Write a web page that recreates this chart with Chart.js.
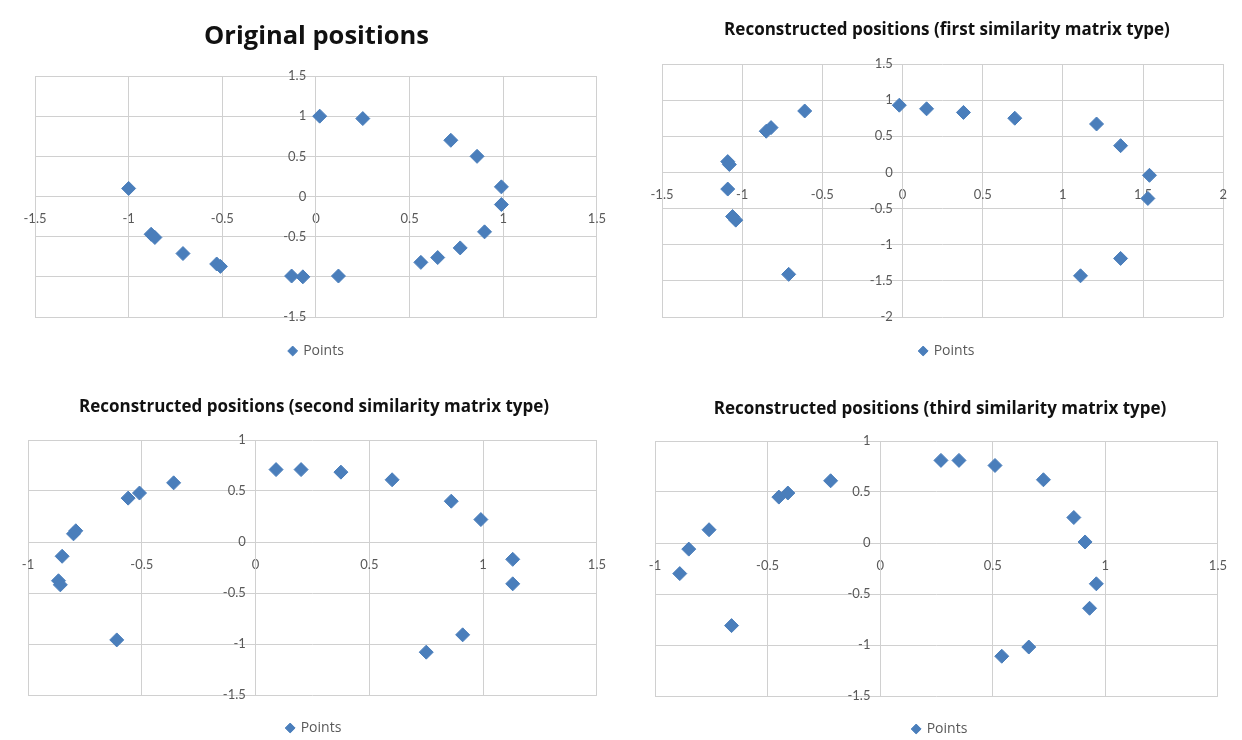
<!DOCTYPE html>
<html>
<head>
<meta charset="utf-8">
<title>Positions</title>
<script src="https://cdn.jsdelivr.net/npm/chart.js@4.4.1/dist/chart.umd.min.js"></script>
<style>
  html, body { margin: 0; padding: 0; background: #ffffff; overflow: hidden; }
  .wrap { position: absolute; }
</style>
</head>
<body>
<div class="wrap" style="left:0px;top:0px;width:621px;height:368px"><canvas id="chartOrig"></canvas></div>
<div class="wrap" style="left:621px;top:0px;width:621px;height:368px"><canvas id="chartFirst"></canvas></div>
<div class="wrap" style="left:0px;top:368px;width:621px;height:377px"><canvas id="chartSecond"></canvas></div>
<div class="wrap" style="left:621px;top:368px;width:621px;height:378px"><canvas id="chartThird"></canvas></div>
<script>
// values
const origX = [-1.0, -0.88, -0.86, -0.71, -0.53, -0.51, -0.13, -0.07, 0.12, 0.02, 0.25, 0.72, 0.86, 0.99, 0.99, 0.90, 0.77, 0.65, 0.56];
const origY = [0.10, -0.47, -0.51, -0.71, -0.84, -0.87, -0.99, -1.0, -0.99, 1.0, 0.97, 0.70, 0.50, 0.12, -0.10, -0.44, -0.64, -0.76, -0.82];

const firstX = [-1.09, -1.08, -1.09, -1.06, -1.04, -0.71, -0.85, -0.82, -0.61, -0.02, 0.15, 0.38, 0.70, 1.21, 1.36, 1.54, 1.53, 1.36, 1.11];
const firstY = [0.15, 0.11, -0.23, -0.61, -0.66, -1.41, 0.57, 0.62, 0.85, 0.93, 0.88, 0.83, 0.75, 0.67, 0.37, -0.04, -0.36, -1.19, -1.43];

const secondX = [-0.85, -0.866, -0.858, -0.80, -0.79, -0.61, -0.56, -0.51, -0.36, 0.09, 0.20, 0.375, 0.60, 0.86, 0.99, 1.13, 1.13, 0.91, 0.75];
const secondY = [-0.14, -0.38, -0.42, 0.08, 0.11, -0.96, 0.43, 0.48, 0.58, 0.71, 0.71, 0.685, 0.61, 0.40, 0.22, -0.17, -0.41, -0.91, -1.08];

const thirdX = [-0.89, -0.85, -0.76, -0.66, -0.45, -0.41, -0.22, 0.27, 0.35, 0.51, 0.725, 0.86, 0.91, 0.96, 0.93, 0.66, 0.54];
const thirdY = [-0.30, -0.06, 0.13, -0.81, 0.45, 0.49, 0.61, 0.81, 0.81, 0.76, 0.62, 0.25, 0.01, -0.40, -0.64, -1.02, -1.11];

const seriesLabel = "Points";
const TICK_FONT = "Lato, 'Open Sans', sans-serif";
const TITLE_FONT = "'Open Sans', Lato, sans-serif";
const BLUE = "#4a7ebb";
const GRID = "#d0d0d0";

const toPoints = (xs, ys) => xs.map((x, i) => ({ x: x, y: ys[i] }));
// Excel style labels: 1, 0.5, -1.5 (no trailing .0)
const fmt = (v) => String(Math.round(v * 10) / 10);

const makeChart = (id, cfg) => {
  const ctx = document.getElementById(id);
  return new Chart(ctx, {
    type: "scatter",
    data: {
      datasets: [
        {
          label: seriesLabel,
          data: toPoints(cfg.xs, cfg.ys),
          pointStyle: "rectRot",
          pointRadius: 7,
          pointHoverRadius: 7,
          backgroundColor: BLUE,
          borderColor: BLUE,
          borderWidth: 1,
        },
      ],
    },
    options: {
      responsive: true,
      maintainAspectRatio: false,
      animation: false,
      layout: { padding: cfg.padding },
      scales: {
        x: {
          type: "linear",
          position: { y: 0 },
          min: cfg.xMin,
          max: cfg.xMax,
          grid: { color: GRID, drawTicks: false },
          border: { color: GRID },
          ticks: {
            stepSize: 0.5,
            padding: 15,
            color: "#595959",
            font: { family: TICK_FONT, size: 13 },
            callback: (v) => fmt(v),
          },
        },
        y: {
          type: "linear",
          position: { x: 0 },
          min: cfg.yMin,
          max: cfg.yMax,
          grid: { color: GRID, drawTicks: false },
          border: { color: GRID },
          ticks: {
            stepSize: 0.5,
            color: "#595959",
            font: { family: TICK_FONT, size: 13 },
            // centre-positioned axis ignores padding, so keep a gap with an em space
            callback: (v) => fmt(v) + "\u2003",
          },
        },
      },
      plugins: {
        title: {
          display: true,
          text: cfg.title,
          color: "#111111",
          font: { family: TITLE_FONT, size: cfg.titleSize, weight: "bold" },
          padding: cfg.titlePad,
        },
        legend: {
          position: "bottom",
          labels: {
            usePointStyle: true,
            pointStyle: "rectRot",
            boxWidth: 7,
            boxHeight: 7,
            padding: cfg.legendPad,
            color: "#595959",
            font: { family: TITLE_FONT, size: 14 },
          },
        },
        tooltip: { enabled: false },
      },
    },
  });
};

makeChart("chartOrig", {
  xs: origX, ys: origY,
  xMin: -1.5, xMax: 1.5, yMin: -1.5, yMax: 1.5,
  title: "Original positions", titleSize: 25.5,
  titlePad: { top: 21.7, bottom: 23.7 },
  padding: { left: 35, right: 23, top: 0, bottom: 0 },
  legendPad: 27,
});

makeChart("chartFirst", {
  xs: firstX, ys: firstY,
  xMin: -1.5, xMax: 2, yMin: -2, yMax: 1.5,
  title: "Reconstructed positions (first similarity matrix type)", titleSize: 17,
  titlePad: { top: 19.8, bottom: 23.8 },
  padding: { left: 41, right: 10, top: 0, bottom: 0 },
  legendPad: 27,
});

makeChart("chartSecond", {
  xs: secondX, ys: secondY,
  xMin: -1, xMax: 1.5, yMin: -1.5, yMax: 1,
  title: "Reconstructed positions (second similarity matrix type)", titleSize: 17,
  titlePad: { top: 28.8, bottom: 22.8 },
  padding: { left: 28, right: 21, top: 0, bottom: 0 },
  legendPad: 26,
});

makeChart("chartThird", {
  xs: thirdX, ys: thirdY,
  xMin: -1, xMax: 1.5, yMin: -1.5, yMax: 1,
  title: "Reconstructed positions (third similarity matrix type)", titleSize: 17,
  titlePad: { top: 30.5, bottom: 22.1 },
  padding: { left: 34, right: 17, top: 0, bottom: 0 },
  legendPad: 26,
});
</script>
</body>
</html>
